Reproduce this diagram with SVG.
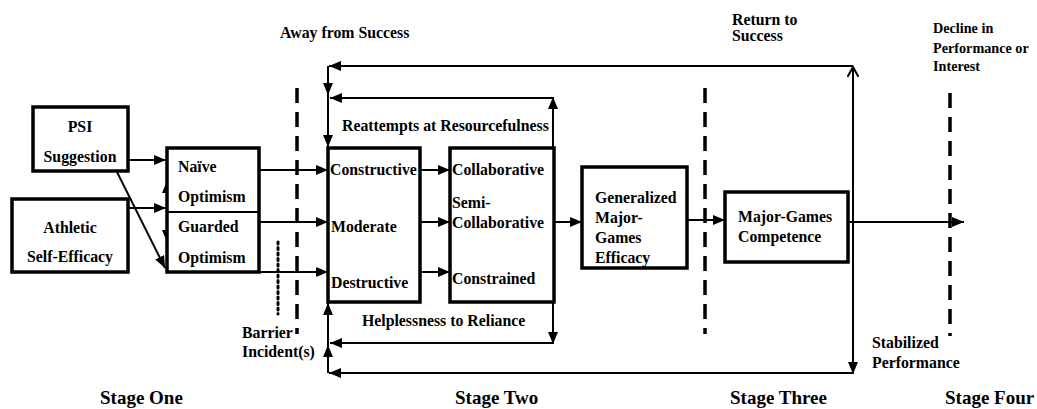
<svg xmlns="http://www.w3.org/2000/svg" width="1037" height="409" viewBox="0 0 1037 409">
<style>
.box{fill:#fff;stroke:#000;stroke-width:3.5}
.ln{fill:none;stroke:#000;stroke-width:2}
.ah{marker-end:url(#arr)}
.t{font-family:"Liberation Serif","Times New Roman",serif;font-weight:bold;font-size:15.8px;fill:#000}
.sm{font-size:14.2px}
.st{font-family:"Liberation Serif","Times New Roman",serif;font-weight:bold;font-size:19px;fill:#000}
.dash{stroke:#000;stroke-width:3.5;stroke-dasharray:15 9;fill:none}
.dot{stroke:#000;stroke-width:3;stroke-dasharray:2 3.5;stroke-linecap:round;fill:none}
</style>
<defs>
<marker id="arr" markerUnits="userSpaceOnUse" markerWidth="12" markerHeight="10" refX="12" refY="5" orient="auto">
<path d="M0,0 L12,5 L0,10 z" fill="#000"/>
</marker>
<marker id="open" markerUnits="userSpaceOnUse" markerWidth="12" markerHeight="12" refX="10" refY="6" orient="auto">
<path d="M0,0.5 L10,6 L0,11.5" fill="none" stroke="#000" stroke-width="2"/>
</marker>
</defs>
<rect width="1037" height="409" fill="#fff"/>

<g id="dividers">
<line class="dash" x1="297" y1="88" x2="297" y2="334"/>
<line class="dash" x1="705" y1="88" x2="705" y2="334"/>
<line class="dash" x1="950" y1="93" x2="950" y2="336"/>
<line class="dot" x1="278" y1="242" x2="278" y2="314"/>
</g>

<g id="connectors">
<line class="ln ah" x1="128" y1="160" x2="166" y2="160"/>
<line class="ln ah" x1="128" y1="208" x2="166" y2="208"/>
<line class="ln ah" x1="117" y1="172" x2="165" y2="268"/>
<line class="ln ah" x1="167" y1="212" x2="167" y2="181"/>
<line class="ln ah" x1="167" y1="212" x2="167" y2="242"/>
<line class="ln ah" x1="259" y1="170" x2="328" y2="170"/>
<line class="ln ah" x1="259" y1="222" x2="328" y2="222"/>
<line class="ln ah" x1="259" y1="272" x2="328" y2="272"/>
<line class="ln ah" x1="420" y1="170" x2="450" y2="170"/>
<line class="ln ah" x1="420" y1="222" x2="450" y2="222"/>
<line class="ln ah" x1="420" y1="272" x2="450" y2="272"/>
<line class="ln ah" x1="554" y1="222" x2="582" y2="222"/>
<line class="ln ah" x1="687" y1="220" x2="725" y2="220"/>
<line class="ln ah" x1="848" y1="222" x2="964" y2="222"/>
<line class="ln" x1="853" y1="222" x2="853" y2="67" marker-end="url(#open)"/>
<line class="ln ah" x1="853" y1="222" x2="853" y2="374"/>
<line class="ln ah" x1="853" y1="66" x2="329" y2="66"/>
<line class="ln ah" x1="328" y1="66" x2="328" y2="95"/>
<line class="ln ah" x1="328" y1="95" x2="328" y2="147"/>
<line class="ln ah" x1="553" y1="147" x2="553" y2="97"/>
<line class="ln ah" x1="553" y1="98" x2="330" y2="98"/>
<line class="ln ah" x1="553" y1="303" x2="553" y2="344"/>
<line class="ln ah" x1="553" y1="343" x2="330" y2="343"/>
<line class="ln ah" x1="328" y1="373" x2="328" y2="345"/>
<line class="ln ah" x1="328" y1="345" x2="328" y2="303"/>
<line class="ln ah" x1="853" y1="373" x2="329" y2="373"/>
</g>

<g id="psi">
<rect class="box" x="33" y="107" width="95" height="64"/>
<text class="t" x="80" y="132" text-anchor="middle">PSI</text>
<text class="t" x="80" y="162" text-anchor="middle">Suggestion</text>
</g>
<g id="athletic">
<rect class="box" x="12" y="199" width="116" height="73"/>
<text class="t" x="70" y="233" text-anchor="middle">Athletic</text>
<text class="t" x="70" y="262" text-anchor="middle">Self-Efficacy</text>
</g>
<g id="optimism">
<rect class="box" x="167" y="148" width="92" height="124"/>
<line x1="167" y1="212" x2="259" y2="212" stroke="#000" stroke-width="2"/>
<text class="t" x="178" y="172">Naïve</text>
<text class="t" x="178" y="202">Optimism</text>
<text class="t" x="178" y="232">Guarded</text>
<text class="t" x="178" y="263">Optimism</text>
</g>
<g id="responses">
<rect class="box" x="328" y="148" width="92" height="154"/>
<text class="t" x="330" y="175">Constructive</text>
<text class="t" x="331" y="232">Moderate</text>
<text class="t" x="331" y="288">Destructive</text>
</g>
<g id="collab">
<rect class="box" x="450" y="148" width="104" height="154"/>
<text class="t" x="452" y="175">Collaborative</text>
<text class="t" x="452" y="208">Semi-</text>
<text class="t" x="452" y="228">Collaborative</text>
<text class="t" x="452" y="284">Constrained</text>
</g>
<g id="generalized">
<rect class="box" x="582" y="167" width="105" height="101"/>
<text class="t" x="595" y="203">Generalized</text>
<text class="t" x="595" y="223">Major-</text>
<text class="t" x="595" y="243">Games</text>
<text class="t" x="595" y="263">Efficacy</text>
</g>
<g id="competence">
<rect class="box" x="725" y="192" width="123" height="70"/>
<text class="t" x="738" y="222">Major-Games</text>
<text class="t" x="738" y="242">Competence</text>
</g>

<g id="labels">
<text class="t" x="280" y="38">Away from Success</text>
<text class="t" x="342" y="131">Reattempts at Resourcefulness</text>
<text class="t" x="362" y="326">Helplessness to Reliance</text>
<text class="t" x="242" y="338">Barrier</text>
<text class="t" x="242" y="357">Incident(s)</text>
<text class="t" x="732" y="25">Return to</text>
<text class="t" x="732" y="41">Success</text>
<text class="t sm" x="933" y="33">Decline in</text>
<text class="t sm" x="933" y="53">Performance or</text>
<text class="t sm" x="933" y="71">Interest</text>
<text class="t" x="872" y="348">Stabilized</text>
<text class="t" x="872" y="368">Performance</text>
<text class="st" x="100" y="404">Stage One</text>
<text class="st" x="455" y="404">Stage Two</text>
<text class="st" x="730" y="404">Stage Three</text>
<text class="st" x="945" y="404">Stage Four</text>
</g>
</svg>
